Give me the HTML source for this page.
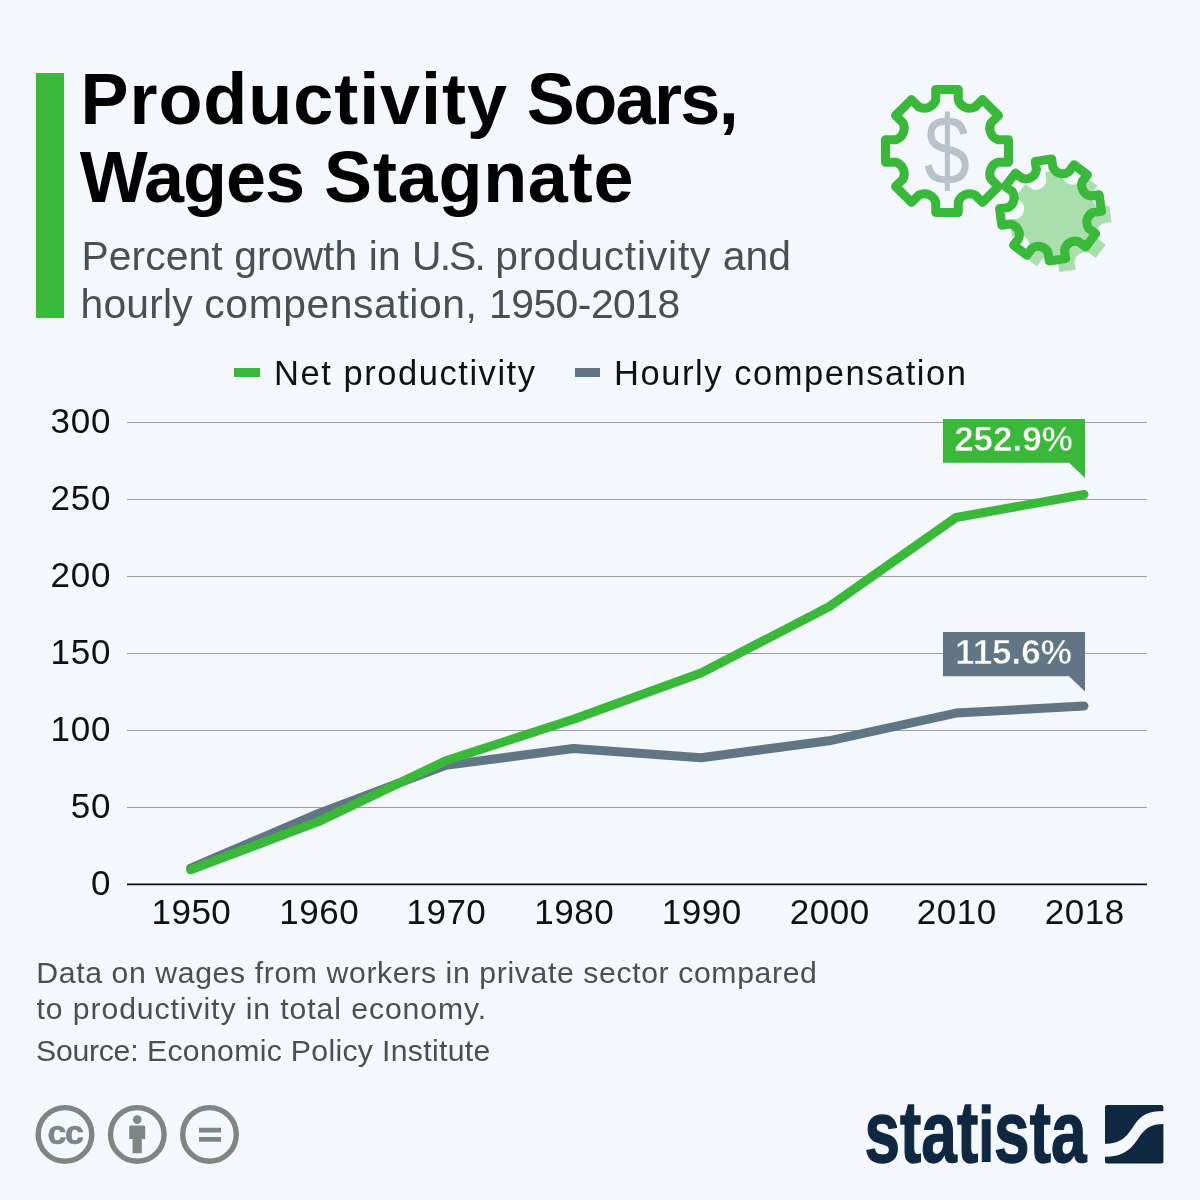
<!DOCTYPE html>
<html lang="en">
<head>
<meta charset="utf-8">
<title>Productivity Soars, Wages Stagnate</title>
<style>
html,body{margin:0;padding:0;}
body{width:1200px;height:1200px;background:#f4f7fb;position:relative;overflow:hidden;font-family:"Liberation Sans",sans-serif;color:#000;}
.abs{position:absolute;white-space:nowrap;line-height:1;margin:0;}
.bar{position:absolute;left:36px;top:73px;width:28px;height:245px;background:#3ab83a;}
h1.abs{font-weight:700;font-size:72px;letter-spacing:0px;color:#000;}
.sub{font-size:40.8px;letter-spacing:0.1px;color:#4a4f50;}
.leg{font-size:34.5px;letter-spacing:1.55px;color:#111;}
.sw{position:absolute;width:26px;height:9px;top:368px;}
.note{font-size:30.2px;letter-spacing:0.62px;color:#4a4f50;}
svg{position:absolute;left:0;top:0;}
svg text{font-family:"Liberation Sans",sans-serif;}
</style>
</head>
<body>
<div class="bar"></div>
<h1 class="abs" id="t1" style="left:80.5px;top:62.5px;"><span style="letter-spacing:0.95px">Productivity</span> <span style="letter-spacing:-1.6px;margin-left:-1.3px">Soars,</span></h1>
<h1 class="abs" id="t2" style="left:79.7px;top:140.5px;"><span style="letter-spacing:-1px">Wages</span> <span style="letter-spacing:0.75px">Stagnate</span></h1>
<p class="abs sub" id="s1" style="left:81.5px;top:235.5px;">Percent growth in <span style="letter-spacing:-1.9px">U.S.</span> <span style="letter-spacing:0.8px">productivity</span> and</p>
<p class="abs sub" id="s2" style="left:80.5px;top:283.5px;letter-spacing:0.2px;">hourly <span style="letter-spacing:0.6px">compensation,</span> <span style="letter-spacing:-0.5px">1950-2018</span></p>

<span class="sw" style="left:234px;background:#3ab83a;"></span>
<span class="abs leg" id="l1" style="left:274px;top:355.5px;">Net productivity</span>
<span class="sw" style="left:574.6px;width:25.7px;background:#607685;"></span>
<span class="abs leg" id="l2" style="left:614px;top:355.5px;">Hourly compensation</span>

<svg width="1200" height="1200" viewBox="0 0 1200 1200">
  <g stroke="#9b9ea1" stroke-width="1" shape-rendering="crispEdges"><line x1="127" x2="1147" y1="807.0" y2="807.0"/><line x1="127" x2="1147" y1="730.0" y2="730.0"/><line x1="127" x2="1147" y1="653.0" y2="653.0"/><line x1="127" x2="1147" y1="576.0" y2="576.0"/><line x1="127" x2="1147" y1="499.0" y2="499.0"/><line x1="127" x2="1147" y1="422.0" y2="422.0"/></g>
  <line x1="127" x2="1147" y1="884.4" y2="884.4" stroke="#111" stroke-width="1.7"/>
  <g font-size="35" fill="#111" id="yl" letter-spacing="0.8"><text x="111.2" y="895.2" text-anchor="end">0</text><text x="111.2" y="818.2" text-anchor="end">50</text><text x="111.2" y="741.2" text-anchor="end">100</text><text x="111.2" y="664.2" text-anchor="end">150</text><text x="111.2" y="587.2" text-anchor="end">200</text><text x="111.2" y="510.2" text-anchor="end">250</text><text x="111.2" y="433.2" text-anchor="end">300</text></g>
  <g font-size="35" fill="#111" id="xl" letter-spacing="0.5"><text x="191.4" y="923.7" text-anchor="middle">1950</text><text x="319.2" y="923.7" text-anchor="middle">1960</text><text x="446.4" y="923.7" text-anchor="middle">1970</text><text x="574.2" y="923.7" text-anchor="middle">1980</text><text x="701.7" y="923.7" text-anchor="middle">1990</text><text x="829.7" y="923.7" text-anchor="middle">2000</text><text x="956.7" y="923.7" text-anchor="middle">2010</text><text x="1084.7" y="923.7" text-anchor="middle">2018</text></g>
  <polyline points="190.7,868.1 318.5,813.5 445.7,765.4 573.5,748.5 701.0,757.7 829.0,740.8 956.0,713.1 1084.0,706.0" fill="none" stroke="#607685" stroke-width="9" stroke-linecap="round" stroke-linejoin="round"/>
  <polyline points="190.7,869.8 318.5,821.6 445.7,760.8 573.5,719.2 701.0,673.0 829.0,606.8 956.0,517.5 1084.0,494.5" fill="none" stroke="#3ab83a" stroke-width="9" stroke-linecap="round" stroke-linejoin="round"/>
  <!-- callouts -->
  <path d="M943 419H1085V478L1069 462.7H943Z" fill="#3ab83a"/>
  <text id="c1" x="1013.5" y="451" font-size="35" font-weight="700" fill="#fff" stroke="#3ab83a" stroke-width="0.6" text-anchor="middle">252.9%</text>
  <path d="M943 632H1085V691.5L1069 676.3H943Z" fill="#607685"/>
  <text id="c2" x="1013.5" y="664.2" font-size="35" font-weight="700" fill="#fff" stroke="#607685" stroke-width="0.6" text-anchor="middle">115.6%</text>
  <!-- gears -->
  <g transform="translate(1060.5,221) rotate(-8)"><path d="M-8.30 -41.86 L-8.30 -50.30 L8.30 -50.30 L8.30 -41.86 A10.80 10.80 0 0 0 23.73 -35.47 L29.70 -41.44 L41.44 -29.70 L35.47 -23.73 A10.80 10.80 0 0 0 41.86 -8.30 L50.30 -8.30 L50.30 8.30 L41.86 8.30 A10.80 10.80 0 0 0 35.47 23.73 L41.44 29.70 L29.70 41.44 L23.73 35.47 A10.80 10.80 0 0 0 8.30 41.86 L8.30 50.30 L-8.30 50.30 L-8.30 41.86 A10.80 10.80 0 0 0 -23.73 35.47 L-29.70 41.44 L-41.44 29.70 L-35.47 23.73 A10.80 10.80 0 0 0 -41.86 8.30 L-50.30 8.30 L-50.30 -8.30 L-41.86 -8.30 A10.80 10.80 0 0 0 -35.47 -23.73 L-41.44 -29.70 L-29.70 -41.44 L-23.73 -35.47 A10.80 10.80 0 0 0 -8.30 -41.86 Z" fill="#3ab83a" fill-opacity="0.4"/></g>
  <path d="M935.75 100.05 L935.75 89.50 L958.25 89.50 L958.25 100.05 A12.20 12.20 0 0 0 975.07 107.02 L982.53 99.56 L998.44 115.47 L990.98 122.93 A12.20 12.20 0 0 0 997.95 139.75 L1008.50 139.75 L1008.50 162.25 L997.95 162.25 A12.20 12.20 0 0 0 990.98 179.07 L998.44 186.53 L982.53 202.44 L975.07 194.98 A12.20 12.20 0 0 0 958.25 201.95 L958.25 212.50 L935.75 212.50 L935.75 201.95 A12.20 12.20 0 0 0 918.93 194.98 L911.47 202.44 L895.56 186.53 L903.02 179.07 A12.20 12.20 0 0 0 896.05 162.25 L885.50 162.25 L885.50 139.75 L896.05 139.75 A12.20 12.20 0 0 0 903.02 122.93 L895.56 115.47 L911.47 99.56 L918.93 107.02 A12.20 12.20 0 0 0 935.75 100.05 Z" fill="none" stroke="#3ab83a" stroke-width="9" stroke-linejoin="round"/>
  <g transform="translate(1050.5,210) rotate(-8)"><path d="M-8.30 -41.86 L-8.30 -50.30 L8.30 -50.30 L8.30 -41.86 A10.80 10.80 0 0 0 23.73 -35.47 L29.70 -41.44 L41.44 -29.70 L35.47 -23.73 A10.80 10.80 0 0 0 41.86 -8.30 L50.30 -8.30 L50.30 8.30 L41.86 8.30 A10.80 10.80 0 0 0 35.47 23.73 L41.44 29.70 L29.70 41.44 L23.73 35.47 A10.80 10.80 0 0 0 8.30 41.86 L8.30 50.30 L-8.30 50.30 L-8.30 41.86 A10.80 10.80 0 0 0 -23.73 35.47 L-29.70 41.44 L-41.44 29.70 L-35.47 23.73 A10.80 10.80 0 0 0 -41.86 8.30 L-50.30 8.30 L-50.30 -8.30 L-41.86 -8.30 A10.80 10.80 0 0 0 -35.47 -23.73 L-41.44 -29.70 L-29.70 -41.44 L-23.73 -35.47 A10.80 10.80 0 0 0 -8.30 -41.86 Z" fill="none" stroke="#3ab83a" stroke-width="9" stroke-linejoin="round"/></g>
  <text id="dollar" transform="translate(947,183.6) scale(0.86,1.02)" x="0" y="0" font-size="96" fill="#b9c1c9" text-anchor="middle">$</text>
  <!-- cc icons -->
  <g fill="none" stroke="#7f8583" stroke-width="5.4">
    <circle cx="65" cy="1134.4" r="26.8"/><circle cx="137.3" cy="1134.4" r="26.8"/><circle cx="209.5" cy="1134.4" r="26.8"/>
  </g>
  <text x="64.9" y="1143.6" font-size="34" font-weight="700" fill="#7f8583" stroke="#7f8583" stroke-width="0.7" text-anchor="middle" letter-spacing="-1.5">cc</text>
  <circle cx="137.2" cy="1119.6" r="4.3" fill="#7f8583"/>
  <path d="M130.7 1125.5h13a1.5 1.5 0 0 1 1.5 1.5v11.9h-3.4v14.4h-9.2v-14.4h-3.4v-11.9a1.5 1.5 0 0 1 1.5-1.5z" fill="#7f8583"/>
  <path d="M199 1127.8h22v4.8h-22zM199 1137h22v4.8h-22z" fill="#7f8583"/>
  <!-- statista -->
  <text id="logo" x="864.5" y="1162" font-size="87" font-weight="700" fill="#0f2741" stroke="#0f2741" stroke-width="1.4" textLength="222" lengthAdjust="spacingAndGlyphs">stat<tspan font-size="78">i</tspan>sta</text>
  <rect x="1105" y="1105" width="58.4" height="58.4" rx="2" fill="#0f2741"/>
  <path d="M1104 1143.9C1122 1143.9 1127 1136 1134 1125.5C1141 1115 1148 1111 1164.4 1111V1124.1C1150 1124.1 1145 1128.5 1138 1138.75C1131 1149 1124 1156.75 1104 1156.75Z" fill="#f4f7fb"/>
</svg>

<p class="abs note" id="n1" style="left:36.3px;top:957.7px;">Data on wages from workers in private sector compared</p>
<p class="abs note" id="n2" style="left:36.5px;top:993.5px;letter-spacing:0.91px;">to productivity in total economy.</p>
<p class="abs note" id="n3" style="left:36px;top:1036px;letter-spacing:0.32px;"><span style="letter-spacing:-0.25px">Source:</span> Economic Policy Institute</p>
</body>
</html>
